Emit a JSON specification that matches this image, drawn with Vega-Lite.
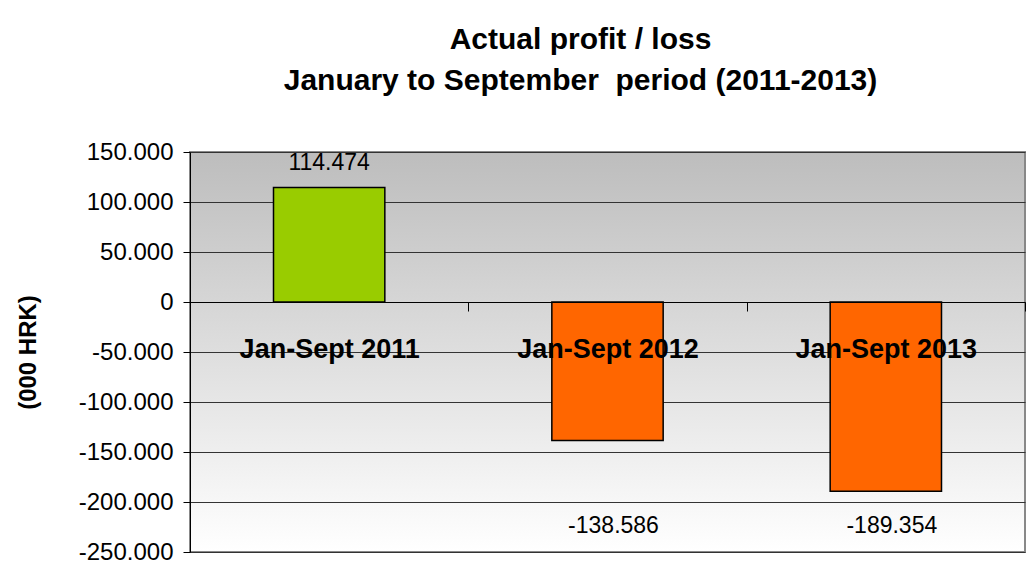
{
  "$schema": "https://vega.github.io/schema/vega-lite/v6.json",
  "width": 835,
  "height": 400,
  "autosize": "none",
  "padding": {"left": 190, "top": 152, "right": 3, "bottom": 33},
  "background": "white",
  "config": {
    "font": "Liberation Sans",
    "view": {
      "stroke": "#888888",
      "strokeWidth": 2,
      "fill": {"gradient": "linear", "x1": 0, "y1": 0, "x2": 0, "y2": 1,
        "stops": [{"offset": 0, "color": "#bdbdbd"}, {"offset": 1, "color": "#ffffff"}]}
    },
    "locale": {"number": {"decimal": ",", "thousands": ".", "grouping": [3], "currency": ["", ""], "minus": "-"}}
  },
  "title": {
    "text": ["Actual profit / loss", "January to September\u00a0 period (2011-2013)"],
    "fontSize": 30,
    "fontWeight": "bold",
    "lineHeight": 41,
    "color": "black",
    "anchor": "middle",
    "dx": -27,
    "offset": 44,
    "font": "Liberation Sans"
  },
  "data": {"values": [
    {"period": "Jan-Sept 2011", "value": 114474},
    {"period": "Jan-Sept 2012", "value": -138586},
    {"period": "Jan-Sept 2013", "value": -189354}
  ]},
  "layer": [
    {
      "mark": {"type": "bar", "width": {"band": 0.4}, "stroke": "black", "strokeWidth": 1.5},
      "encoding": {
        "x": {"field": "period", "type": "nominal", "sort": null,
          "scale": {"paddingInner": 0, "paddingOuter": 0},
          "axis": {"title": null, "orient": "bottom", "offset": -250, "labelAngle": 0,
            "labelFontSize": 27, "labelFontWeight": "bold", "labelColor": "black", "labelLimit": 0,
            "tickBand": "extent", "tickSize": 9, "tickColor": "black", "tickWidth": 1,
            "domainColor": "black", "domainWidth": 1, "labelPadding": 25, "zindex": 1,
            "labelBaseline": "top", "grid": false}},
        "y": {"field": "value", "type": "quantitative",
          "scale": {"domain": [-250000, 150000], "nice": false},
          "axis": {"title": "(000 HRK)",
            "values": [-250000, -200000, -150000, -100000, -50000, 0, 50000, 100000, 150000],
            "format": ",d", "labelFontSize": 24, "labelColor": "black",
            "tickColor": "black", "tickSize": 7, "domainColor": "black", "domainWidth": 1,
            "grid": true, "gridColor": "#333333", "gridWidth": 1,
            "titleFontSize": 24, "titleFontWeight": "bold", "titleColor": "black",
            "titlePadding": 38, "labelPadding": 10}},
        "color": {"condition": {"test": "datum.value > 0", "value": "#99cc00"}, "value": "#ff6600"}
      }
    },
    {
      "transform": [{"filter": "datum.value > 0"}],
      "mark": {"type": "text", "fontSize": 23, "dy": -25, "baseline": "middle", "color": "black"},
      "encoding": {
        "x": {"field": "period", "type": "nominal", "sort": null},
        "y": {"field": "value", "type": "quantitative"},
        "text": {"field": "value", "type": "quantitative", "format": ",d"}
      }
    },
    {
      "transform": [{"filter": "datum.value < 0"}],
      "mark": {"type": "text", "fontSize": 23, "baseline": "middle", "color": "black", "dx": 6},
      "encoding": {
        "x": {"field": "period", "type": "nominal", "sort": null},
        "y": {"datum": -224000},
        "text": {"field": "value", "type": "quantitative", "format": ",d"}
      }
    }
  ]
}
